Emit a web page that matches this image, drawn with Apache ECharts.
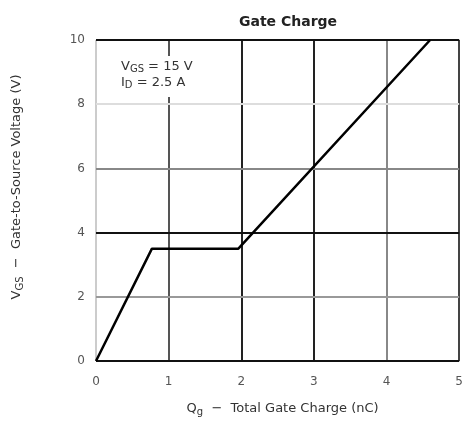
<!DOCTYPE html>
<html>
<head>
<meta charset="utf-8">
<script src="https://cdn.jsdelivr.net/npm/echarts@6/dist/echarts.min.js"></script>
<style>
  html, body { margin: 0; padding: 0; background: #fff; }
  #chart { width: 466px; height: 422px; }
</style>
</head>
<body>
<div id="chart"></div>
<script>
// gate charge curve
var qg = [0, 0.77, 1.96, 4.6];
var vgs = [0, 3.5, 3.5, 10];
var xTicks = [0, 1, 2, 3, 4, 5];
var yTicks = [0, 2, 4, 6, 8, 10];

// grid line shades (the scan has them all slightly different)
var xGridColors = ['#ccc', '#555', '#222', '#222', '#888', '#444'];
var yGridColors = ['#111', '#999', '#111', '#888', '#ddd', '#111'];

var font = 'DejaVu Sans';
var myChart = echarts.init(document.getElementById('chart'));

var gridLines = [];
xTicks.forEach(function (v, i) {
    gridLines.push({ xAxis: v, lineStyle: { color: xGridColors[i], width: 2, type: 'solid' } });
});
yTicks.forEach(function (v, i) {
    gridLines.push({ yAxis: v, lineStyle: { color: yGridColors[i], width: 2, type: 'solid' } });
});
// bottom axis goes on top of everything
gridLines.push(gridLines.splice(xTicks.length, 1)[0]);

var sub = { fontFamily: font, fontSize: 10, color: '#333', padding: [6, 0, 0, 0] };

var option = {
    animation: false,
    backgroundColor: '#fff',
    title: {
        text: 'Gate Charge',
        left: 283,
        top: 10,
        textAlign: 'center',
        textStyle: { fontFamily: font, fontSize: 14, fontWeight: 'bold', color: '#222' }
    },
    grid: { left: 96, right: 2, top: 40, bottom: 60 },
    xAxis: {
        type: 'value',
        min: 0, max: 5, interval: 1,
        name: '{n|Q}{s|g}{n|  \u2212  Total Gate Charge (nC)}',
        nameLocation: 'middle',
        nameGap: 40,
        nameTextStyle: {
            padding: [0, 0, 0, 10],
            rich: {
                n: { fontFamily: font, fontSize: 13, color: '#333' },
                s: sub
            }
        },
        axisLine: { show: false },
        axisTick: { show: false },
        axisLabel: { margin: 15, fontFamily: font, fontSize: 12, color: '#555' },
        splitLine: { show: false }
    },
    yAxis: {
        type: 'value',
        min: 0, max: 10, interval: 2,
        axisLine: { show: false },
        axisTick: { show: false },
        axisLabel: { margin: 11, fontFamily: font, fontSize: 12, color: '#555' },
        splitLine: { show: false }
    },
    graphic: [{
        type: 'text',
        x: 17,
        y: 187,
        rotation: Math.PI / 2,
        style: {
            text: '{n|V}{s|GS}{n|  \u2212  Gate-to-Source Voltage (V)}',
            align: 'center',
            verticalAlign: 'middle',
            rich: {
                n: { fontFamily: font, fontSize: 13, fill: '#333' },
                s: { fontFamily: font, fontSize: 10, fill: '#333', padding: [6, 0, 0, 0] }
            }
        }
    }, {
        type: 'text',
        left: 118,
        top: 56,
        z: 10,
        style: {
            text: '{n|V}{s|GS}{n| = 15 V}\n{n|I}{s|D}{n| = 2.5 A}',
            backgroundColor: '#fff',
            padding: [3, 3, 6, 3],
            rich: {
                n: { fontFamily: font, fontSize: 13, fill: '#333', lineHeight: 16 },
                s: { fontFamily: font, fontSize: 10, fill: '#333', lineHeight: 16, padding: [5, 0, 0, 0] }
            }
        }
    }],
    series: [{
        type: 'line',
        data: [],
        z: 1,
        silent: true,
        markLine: {
            silent: true,
            symbol: 'none',
            label: { show: false },
            data: gridLines
        }
    }, {
        type: 'line',
        data: qg.map(function (q, i) { return [q, vgs[i]]; }),
        symbol: 'none',
        lineStyle: { color: '#000', width: 2.5 },
        z: 5
    }]
};

myChart.setOption(option);
</script>
</body>
</html>
